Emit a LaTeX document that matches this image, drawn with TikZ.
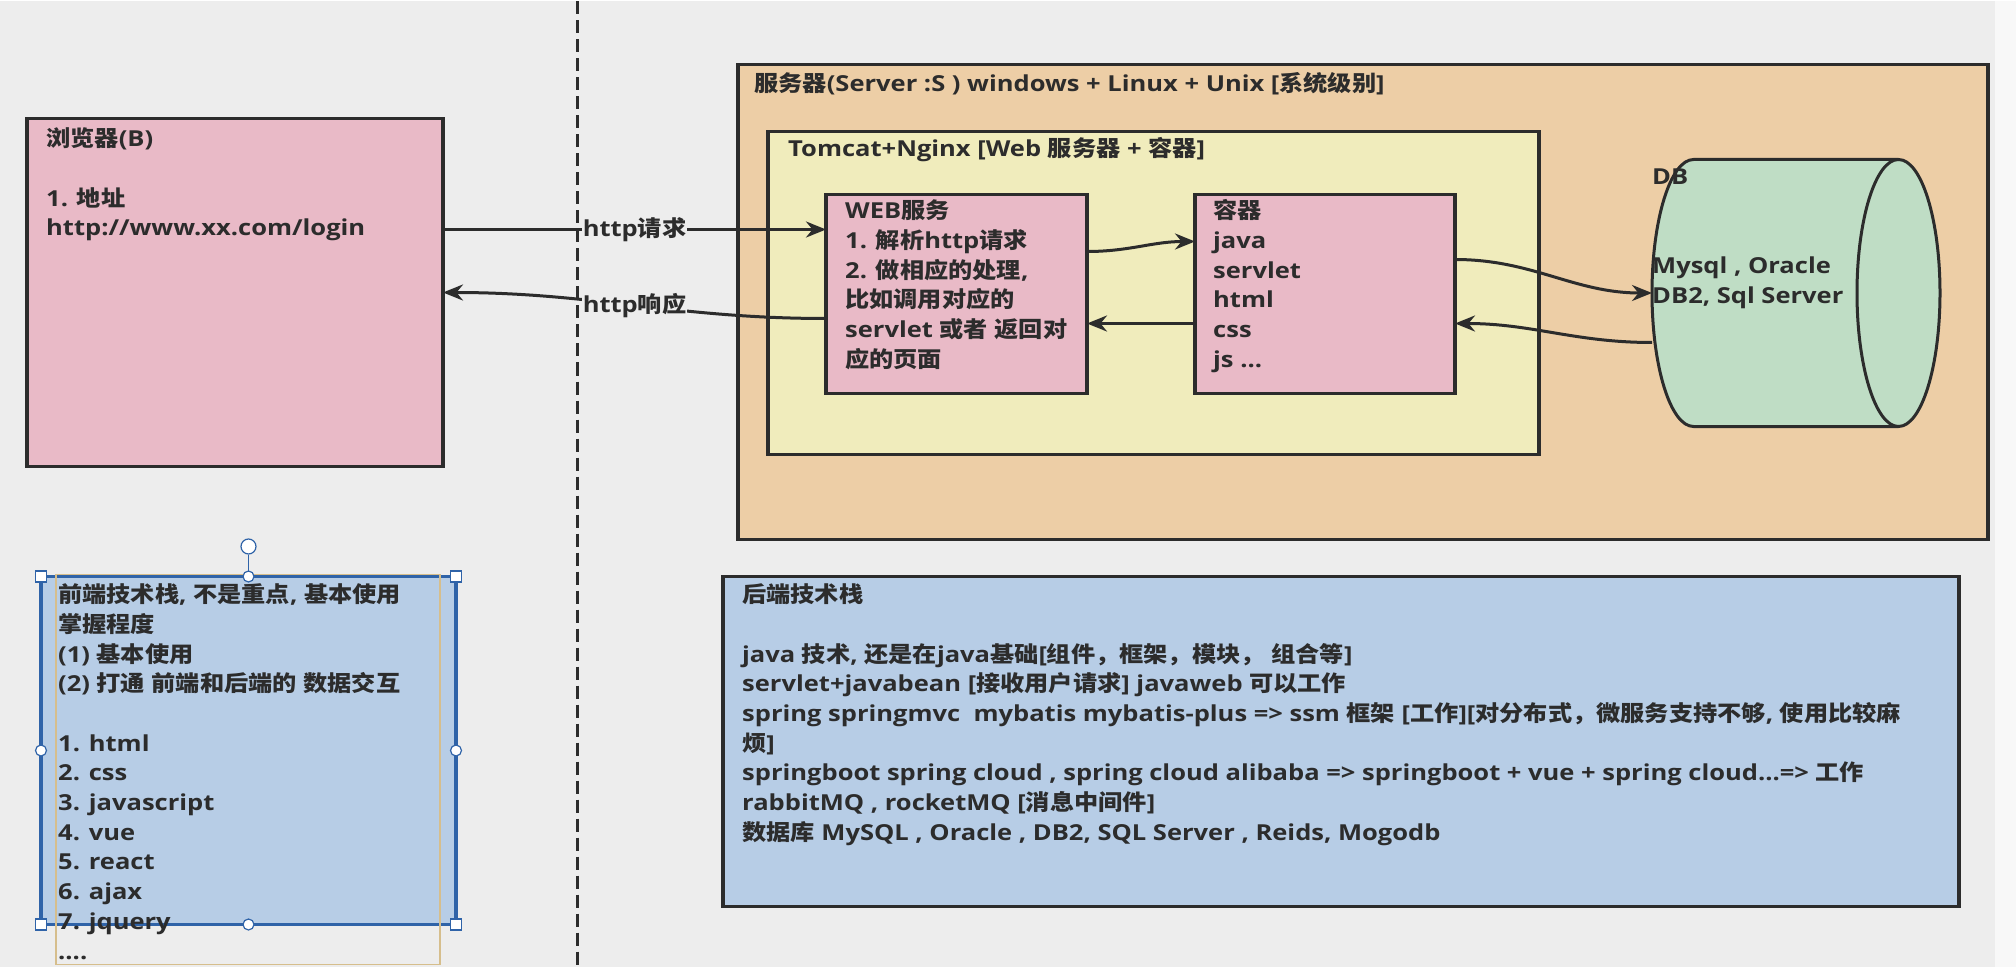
\documentclass[tikz,border=0pt]{standalone}
\usepackage{fontspec}
\setmainfont{Open Sans}[FakeStretch=1.16]
\newfontfamily\cjkfont{Noto Sans CJK SC}[FakeStretch=1.1]
\usetikzlibrary{arrows.meta,positioning}

% Chinese characters switch to the CJK font
\XeTeXinterchartokenstate=1
\newXeTeXintercharclass\cjkclass
\makeatletter
\newcommand\cjkrange[2]{%
  \count@=#1
  \loop
    \XeTeXcharclass\count@=\cjkclass
  \ifnum\count@<#2 \advance\count@\@ne
  \repeat}
\makeatother
\cjkrange{"3000}{"303F}
\cjkrange{"4E00}{"9FFF}
\cjkrange{"FF00}{"FFEF}
\XeTeXinterchartoks 0 \cjkclass = {\begingroup\cjkfont}
\XeTeXinterchartoks 4095 \cjkclass = {\begingroup\cjkfont}
\XeTeXinterchartoks \cjkclass 0 = {\endgroup}
\XeTeXinterchartoks \cjkclass 4095 = {\endgroup}

\definecolor{bgc}{HTML}{EDEDED}
\definecolor{pinkc}{HTML}{E9BAC7}
\definecolor{tanc}{HTML}{EDCEA6}
\definecolor{lemonc}{HTML}{F0ECBC}
\definecolor{mintc}{HTML}{BFDDC5}
\definecolor{skyc}{HTML}{B7CDE6}
\definecolor{inkc}{HTML}{2C2C2C}
\definecolor{selc}{HTML}{2F63A8}
\definecolor{framec}{HTML}{D6BE8C}

\begin{document}
\begin{tikzpicture}[
  x=1pt, y=-1pt,
  box/.style={draw=inkc, line width=3.5pt, anchor=north west, inner sep=0pt, outer sep=0pt},
  ghost/.style={anchor=north west, inner sep=0pt, outer sep=0pt},
  txt/.style={anchor=north west, align=left, inner sep=0pt, text=inkc, font=\fontsize{22}{29.7}\selectfont\bfseries},
  tag/.style={fill=bgc, inner sep=1pt, text=inkc, font=\fontsize{22}{29.7}\selectfont\bfseries},
  link/.style={draw=inkc, line width=3pt, -{Stealth[length=20pt,width=16pt]}},
  divider/.style={draw=inkc, line width=3pt, dash pattern=on 13pt off 6pt},
  grip/.style={draw=selc, fill=white, line width=1.2pt, minimum size=11pt, inner sep=0pt},
  knob/.style={circle, draw=selc, fill=white, line width=1.2pt, minimum size=11pt, inner sep=0pt}
]

% Canvas and the dashed divider
\fill[bgc] (0,0) rectangle (2016,965);
\fill[white!60!bgc] (1995,0) rectangle (2016,965);
\coordinate (divtop) at (577,0);
\coordinate (divbot) at (577,965);
\draw[divider] (divtop) -- (divbot);

% Browser
\node[box, fill=pinkc, minimum width=416pt, minimum height=348pt] (browser) at (27,117) {};
\node[txt] (browsertxt) at ([shift={(19,7.2)}]browser.north west)
  {\strut 浏览器(B)\\[29.7pt]1. 地址\\http://www.xx.com/login};

% Server, web server and container
\node[box, fill=tanc, minimum width=1250pt, minimum height=475pt] (server) at (738,63) {};
\node[txt] (servertxt) at ([shift={(16,6.2)}]server.north west)
  {\strut 服务器(Server :S ) windows + Linux + Unix [系统级别]};
\node[box, fill=lemonc, minimum width=771pt, minimum height=323pt] (tomcat) at (768,130) {};
\node[txt] (tomcattxt) at ([shift={(20,4.2)}]tomcat.north west)
  {\strut Tomcat+Nginx [Web 服务器 + 容器]};
\node[box, fill=pinkc, minimum width=261pt, minimum height=199pt] (web) at (826,193) {};
\node[txt] (webtxt) at ([shift={(19,3.2)}]web.north west)
  {\strut WEB服务\\1. 解析http请求\\2. 做相应的处理,\\比如调用对应的\\servlet 或者 返回对\\应的页面};
\node[box, fill=pinkc, minimum width=260pt, minimum height=199pt] (ctr) at (1195,193) {};
\node[txt] (ctrtxt) at ([shift={(18,3.2)}]ctr.north west)
  {\strut 容器\\java\\servlet\\html\\css\\js ...};

% Database cylinder
\node[ghost, minimum width=288pt, minimum height=267pt] (db) at (1652,158) {};
\filldraw[fill=mintc, draw=inkc, line width=3pt]
  ([xshift=41.5pt]db.north west) -- ([xshift=-41.5pt]db.north east)
  arc[start angle=90, end angle=-90, x radius=41.5pt, y radius=133.5pt]
  -- ([xshift=41.5pt]db.south west)
  arc[start angle=-90, end angle=-270, x radius=41.5pt, y radius=133.5pt] -- cycle;
\draw[draw=inkc, line width=3pt] ([xshift=-41.5pt]db.north east)
  arc[start angle=90, end angle=270, x radius=41.5pt, y radius=133.5pt];
\node[txt] (dbtxt) at ([shift={(0,4.2)}]db.north west)
  {\strut DB\\[59.4pt]Mysql , Oracle\\DB2, Sql Server};

% Requests and responses
\draw[link] ([yshift=63pt]browser.east) -- node[tag] (reqtag) {http请求} ([yshift=64.5pt]web.west);
\draw[link] ([yshift=-24.5pt]web.west) to[out=180, in=0] node[tag] (resptag) {http响应} (browser.east);
\draw[link] ([yshift=42.5pt]web.east) to[out=0, in=180] ([yshift=52.5pt]ctr.west);
\draw[link] ([yshift=-29.5pt]ctr.west) -- ([yshift=-29.5pt]web.east);
\draw[link] ([yshift=34.5pt]ctr.east) to[out=0, in=180] (db.west);
\draw[link] ([yshift=-49.5pt]db.west) to[out=180, in=0] ([yshift=-29.5pt]ctr.east);

% Front end stack (selected text box)
\node[box, draw=selc, fill=skyc, minimum width=415pt, minimum height=348pt] (frontsel) at (41,575) {};
\node[ghost, draw=framec, line width=1.5pt, minimum width=384pt, minimum height=390pt] (frontbox) at (56,573) {};
\node[txt] (fronttxt) at ([shift={(2,7.2)}]frontbox.north west)
  {\strut 前端技术栈, 不是重点, 基本使用\\掌握程度\\(1) 基本使用\\(2) 打通 前端和后端的 数据交互\\[29.7pt]%
   1. html\\2. css\\3. javascript\\4. vue\\5. react\\6. ajax\\7. jquery\\....};
\node[knob, minimum size=15pt] (turn) at ([yshift=30pt]frontsel.north) {};
\draw[selc, line width=1.5pt] (turn) -- (frontsel.north);
\foreach \p [count=\i] in {north west, north east, south west, south east}
  \node[grip] (grip\i) at (frontsel.\p) {};
\foreach \p [count=\i] in {west, east, south, north}
  \node[knob] (knob\i) at (frontsel.\p) {};

% Back end stack
\node[box, fill=skyc, minimum width=1236pt, minimum height=330pt] (back) at (723,575) {};
\node[txt] (backtxt) at ([shift={(19,5.2)}]back.north west)
  {\strut 后端技术栈\\[29.7pt]%
   java 技术, 还是在java基础[组件，框架，模块， 组合等]\\
   servlet+javabean [接收用户请求] javaweb 可以工作\\
   spring springmvc \ mybatis mybatis-plus => ssm 框架 [工作][对分布式，微服务支持不够, 使用比较麻\\
   烦]\\
   springboot spring cloud , spring cloud alibaba => springboot + vue + spring cloud...=> 工作\\
   rabbitMQ , rocketMQ [消息中间件]\\
   数据库 MySQL , Oracle , DB2, SQL Server , Reids, Mogodb};
\end{tikzpicture}
\end{document}
